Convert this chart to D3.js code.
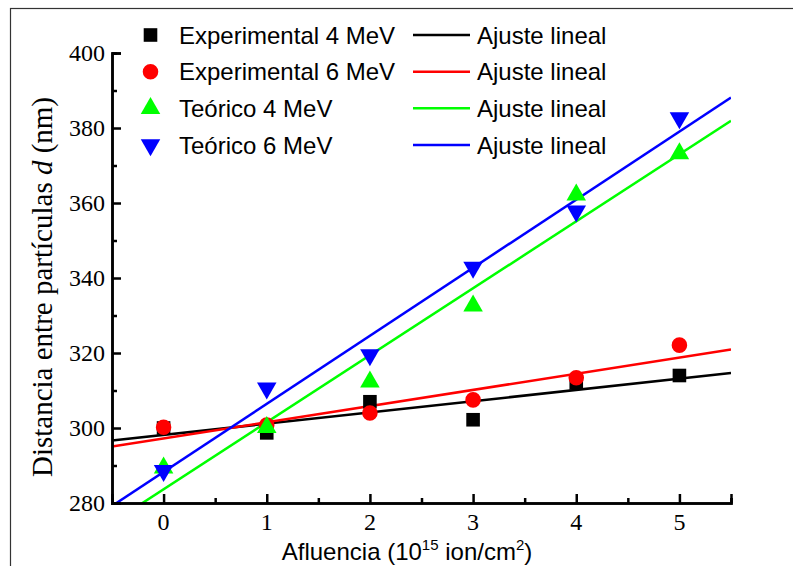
<!DOCTYPE html>
<html>
<head>
<meta charset="utf-8">
<script src="https://cdn.jsdelivr.net/npm/d3@7"></script>
<style>
  body { margin: 0; background: #fff; }
  svg { display: block; }
</style>
</head>
<body>
<svg id="chart" width="793" height="566"></svg>
<script>
// fluence values (10^15 ion/cm^2)
const fluence = [0, 1, 2, 3, 4, 5];

// distance between particles d (nm)
const exp4 = [300, 298.7, 307, 302.2, 312, 314];
const exp6 = [300.2, 300.8, 304, 307.5, 313.4, 322.1];
const teo4 = [289.4, 300.2, 312.3, 332.6, 362.2, 373.2];
const teo6 = [288.6, 310.6, 319.5, 342.8, 357.8, 382.7];

const seriesNames = ["Experimental 4 MeV", "Experimental 6 MeV", "Teórico 4 MeV", "Teórico 6 MeV"];
const fitName = "Ajuste lineal";
const xTicks = [0, 1, 2, 3, 4, 5];
const yTicks = [280, 300, 320, 340, 360, 380, 400];

const series = [
    { name: seriesNames[0], values: exp4, color: "#000000", symbol: d3.symbolSquare, rot: 0, size: 185 },
    { name: seriesNames[1], values: exp6, color: "#ff0000", symbol: d3.symbolCircle, rot: 0, size: 190 },
    { name: seriesNames[2], values: teo4, color: "#00ff00", symbol: d3.symbolTriangle, rot: 0, size: 165 },
    { name: seriesNames[3], values: teo6, color: "#0000ff", symbol: d3.symbolTriangle, rot: 180, size: 165 }
];

const serif = "'Liberation Serif', 'Times New Roman', serif";
const sans = "'Liberation Sans', Arial, sans-serif";

const svg = d3.select("#chart");

// outer frame
svg.append("rect")
    .attr("x", 10.5).attr("y", 8.5)
    .attr("width", 900).attr("height", 700)
    .attr("fill", "none")
    .attr("stroke", "#333")
    .attr("stroke-width", 1.2);

const x = d3.scaleLinear().domain([-0.5, 5.5]).range([112, 731]);
const y = d3.scaleLinear().domain([280, 400]).range([503, 53]);

// least squares fit
function fit(xs, ys) {
    const mx = d3.mean(xs), my = d3.mean(ys);
    const sxy = d3.sum(xs, (v, i) => (v - mx) * (ys[i] - my));
    const sxx = d3.sum(xs, v => (v - mx) * (v - mx));
    const b = sxy / sxx;
    return { a: my - b * mx, b: b };
}

svg.append("clipPath").attr("id", "plotClip")
    .append("rect")
    .attr("x", x(-0.5)).attr("y", 0)
    .attr("width", x(5.5) - x(-0.5)).attr("height", y(280));

const fitG = svg.append("g").attr("clip-path", "url(#plotClip)");
series.forEach(s => {
    const f = fit(fluence, s.values);
    fitG.append("line")
        .attr("x1", x(-0.5)).attr("y1", y(f.a + f.b * -0.5))
        .attr("x2", x(5.5)).attr("y2", y(f.a + f.b * 5.5))
        .attr("stroke", s.color)
        .attr("stroke-width", 2.5);
});

// markers
series.forEach(s => {
    svg.append("g").selectAll("path")
        .data(s.values)
        .join("path")
        .attr("d", d3.symbol().type(s.symbol).size(s.size))
        .attr("transform", (d, i) => `translate(${x(fluence[i])},${y(d)}) rotate(${s.rot})`)
        .attr("fill", s.color);
});

// axes, ticks pointing inward
const xAxis = svg.append("g")
    .attr("transform", `translate(0,${y(280)})`)
    .call(d3.axisTop(x).tickValues(xTicks).tickSize(9).tickFormat(""));
const xMinor = svg.append("g")
    .attr("transform", `translate(0,${y(280)})`)
    .call(d3.axisTop(x).tickValues(d3.range(-0.5, 5.6, 1)).tickSize(5).tickFormat(""));

const yAxis = svg.append("g")
    .attr("transform", `translate(${x(-0.5)},0)`)
    .call(d3.axisRight(y).tickValues(yTicks).tickSize(9).tickFormat(""));
const yMinor = svg.append("g")
    .attr("transform", `translate(${x(-0.5)},0)`)
    .call(d3.axisRight(y).tickValues(d3.range(290, 400, 20)).tickSize(5).tickFormat(""));

[xAxis, xMinor, yAxis, yMinor].forEach(g => {
    g.select(".domain").attr("stroke", "#000").attr("stroke-width", 2.5);
    g.selectAll(".tick line").attr("stroke", "#000").attr("stroke-width", 2.5);
});

// tick labels
svg.append("g").selectAll("text")
    .data(xTicks)
    .join("text")
    .attr("x", d => x(d))
    .attr("y", 530)
    .attr("text-anchor", "middle")
    .attr("font-family", serif)
    .attr("font-size", 24)
    .text(d => d);

svg.append("g").selectAll("text")
    .data(yTicks)
    .join("text")
    .attr("x", 105)
    .attr("y", d => y(d))
    .attr("dy", "0.35em")
    .attr("text-anchor", "end")
    .attr("font-family", serif)
    .attr("font-size", 24)
    .text(d => d);

// axis titles
const yTitle = svg.append("text")
    .attr("transform", "translate(52,287) rotate(-90)")
    .attr("text-anchor", "middle")
    .attr("font-family", serif)
    .attr("font-size", 29);
yTitle.append("tspan").text("Distancia entre partículas ");
yTitle.append("tspan").attr("font-style", "italic").text("d");
yTitle.append("tspan").text(" (nm)");

const xTitle = svg.append("text")
    .attr("x", 407).attr("y", 560)
    .attr("text-anchor", "middle")
    .attr("font-family", sans)
    .attr("font-size", 24);
xTitle.append("tspan").text("Afluencia (10");
xTitle.append("tspan").attr("dy", -10).attr("font-size", 15).text("15");
xTitle.append("tspan").attr("dy", 10).text(" ion/cm");
xTitle.append("tspan").attr("dy", -10).attr("font-size", 15).text("2");
xTitle.append("tspan").attr("dy", 10).text(")");

// legend
const legendY = [35, 71.7, 108.3, 145];
const legend = svg.append("g");
series.forEach((s, i) => {
    legend.append("path")
        .attr("d", d3.symbol().type(s.symbol).size(s.size))
        .attr("transform", `translate(150.5,${legendY[i]}) rotate(${s.rot})`)
        .attr("fill", s.color);
    legend.append("text")
        .attr("x", 179).attr("y", legendY[i] + 8.5)
        .attr("font-family", sans)
        .attr("font-size", 24)
        .text(s.name);
    legend.append("line")
        .attr("x1", 413).attr("x2", 470)
        .attr("y1", legendY[i]).attr("y2", legendY[i])
        .attr("stroke", s.color)
        .attr("stroke-width", 2.5);
    legend.append("text")
        .attr("x", 477).attr("y", legendY[i] + 8.5)
        .attr("font-family", sans)
        .attr("font-size", 24)
        .text(fitName);
});
</script>
</body>
</html>
